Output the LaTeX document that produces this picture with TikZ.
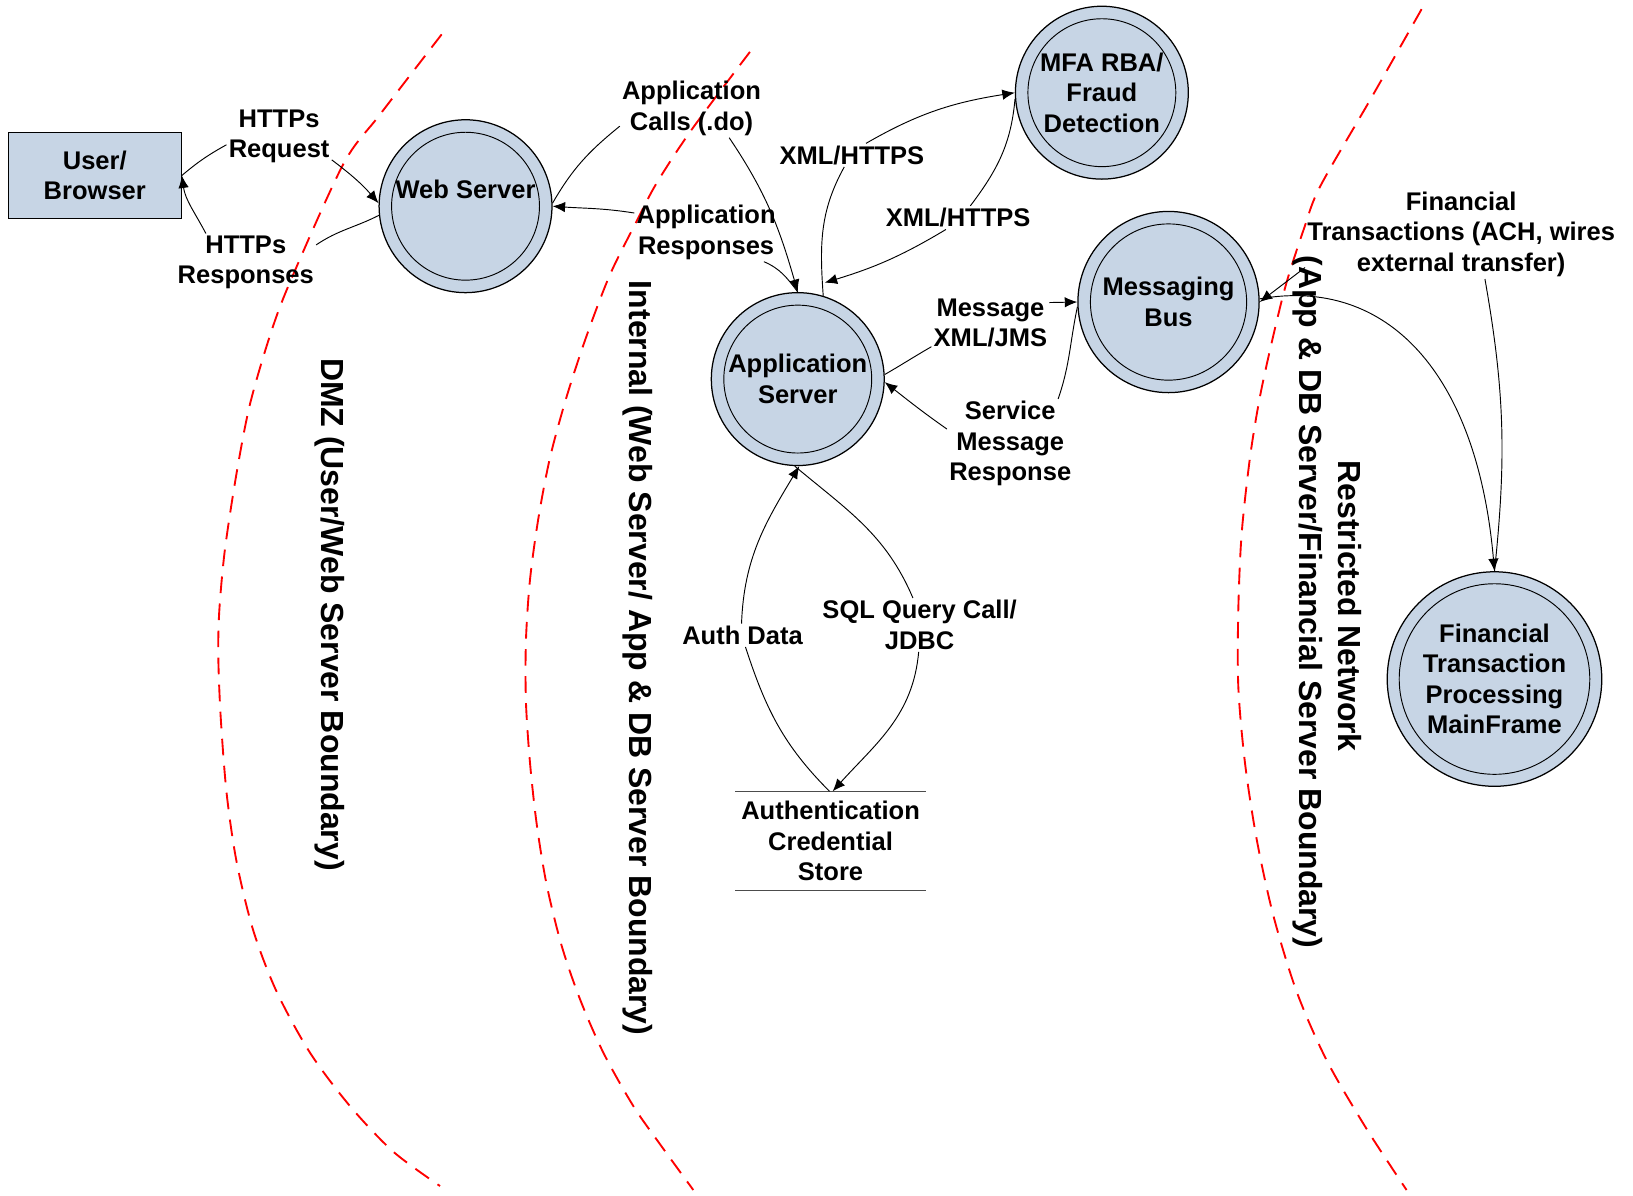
\documentclass[tikz,border=0pt]{standalone}
\usepackage{fontspec}
\setmainfont{Liberation Sans}
\usetikzlibrary{arrows.meta}
\definecolor{procfill}{RGB}{199,213,229}
\definecolor{zonered}{RGB}{255,0,0}
\newcommand\lblfont{\fontsize{24.5}{29.3}\selectfont\bfseries}
\newcommand\zonefont{\fontsize{30.7}{36}\selectfont\bfseries}

\begin{document}
\begin{tikzpicture}[x=1pt,y=1pt,
  lbl/.style={font=\lblfont, align=center, inner sep=2pt},
  proc/.style={circle, draw, line width=1.2pt, fill=procfill, font=\lblfont, align=center, inner sep=0pt},
  ring/.style={line width=0.9pt},
  flow/.style={line width=0.9pt, -{Latex[length=12pt,width=10pt]}},
  plain/.style={line width=0.9pt},
  zone/.style={draw=zonered, line width=1.8pt, dash pattern=on 16pt off 10pt},
  zonelbl/.style={font=\zonefont, rotate=-90, inner sep=0pt},
  storeline/.style={draw=black!70, line width=1.2pt}]
\useasboundingbox (0,0) rectangle (1568,-1148);

% trust boundaries
\draw[zone] plot[smooth] coordinates {(424.1,-33) (364.9,-109.9) (329.7,-157.5) (278.4,-271) (259.2,-322.3) (240,-388.2) (227.2,-454.1) (216,-527.3) (210.6,-585.9) (209.6,-629.9) (211.9,-688.4) (217.6,-761.7) (227.2,-827.6) (243.2,-893.5) (265.6,-952.1) (297.6,-1010.7) (336,-1062) (377.7,-1105.9) (422.5,-1138.8)};
\draw[zone] plot[smooth] coordinates {(720.1,-49.8) (664.1,-124.5) (630.5,-175.8) (611.3,-212.4) (585.7,-263.7) (563.3,-322.3) (544.1,-380.8) (528.1,-439.5) (516.9,-498) (508.9,-556.6) (505,-615.2) (505,-673.8) (508.9,-732.4) (515.3,-791) (524.9,-849.6) (539.3,-908.1) (556.9,-959.4) (579.3,-1010.7) (608.1,-1062) (633.7,-1098.6) (665.7,-1142.6)};
\draw[zone] plot[smooth] coordinates {(1365,-8.8) (1316,-95.2) (1267.4,-179.4) (1252,-219.7) (1235.4,-271) (1222.6,-322.3) (1209.8,-380.8) (1200.2,-439.5) (1192.2,-512.7) (1189,-585.9) (1189,-659.2) (1195.4,-732.4) (1206.6,-805.6) (1222.6,-878.9) (1245,-952.1) (1273.8,-1018) (1312.2,-1084) (1350.6,-1142.6)};

\node[zonelbl] (zdmz) at (317,-590) {DMZ (User/Web Server Boundary)};
\node[zonelbl] (zint) at (612,-632) {Internal (Web Server/ App \& DB Server Boundary)};
\node[zonelbl] (zres) at (1296,-582) {Restricted Network};
\node[zonelbl] (zapp) at (1256,-578) {(App \& DB Server/Financial Server Boundary)};

% external entity, processes and data store
\node[draw, line width=1.2pt, fill=procfill, minimum width=166pt, minimum height=83pt,
      font=\lblfont, align=center, inner sep=0pt] (ub) at (91,-168.5) {User/\\Browser};
\node[proc, minimum size=166pt] (ws) at (447,-198) {\raisebox{16pt}[\height][\depth]{Web Server}};
\node[proc, minimum size=166pt] (as) at (766,-364) {Application\\Server};
\node[proc, minimum size=166pt] (mfa) at (1058,-89) {MFA RBA/\\Fraud\\Detection};
\node[proc, minimum size=174pt] (mb) at (1122,-290) {Messaging\\Bus};
\node[proc, minimum size=206pt] (mf) at (1435,-652) {Financial\\Transaction\\Processing\\MainFrame};
\draw[ring] (ws.center) circle[radius=71];
\draw[ring] (as.center) circle[radius=71];
\draw[ring] (mfa.center) circle[radius=71];
\draw[ring] (mb.center) circle[radius=75];
\draw[ring] (mf.center) circle[radius=91.5];

\node[font=\lblfont, align=center, minimum width=183pt, minimum height=95pt, inner sep=0pt] (st) at (797.5,-807.5) {Authentication\\Credential\\Store};
\draw[storeline] (st.north west) -- (st.north east) (st.south west) -- (st.south east);

% flow labels
\node[lbl] (lreq) at (268,-131) {HTTPs\\Request};
\node[lbl] (lresp) at (236,-252) {HTTPs\\Responses};
\node[lbl] (lcalls) at (664,-104) {Application\\Calls (.do)};
\node[lbl] (lresp2) at (678,-223) {Application\\Responses};
\node[lbl] (lxml1) at (818,-149) {XML/HTTPS};
\node[lbl] (lxml2) at (920,-209) {XML/HTTPS};
\node[lbl] (lmsg) at (951,-310) {Message\\XML/JMS};
\node[lbl] (lsvc) at (970,-426) {Service\\Message\\Response};
\node[lbl] (lauth) at (713,-610) {Auth Data};
\node[lbl] (lsql) at (883,-600) {SQL Query Call/\\JDBC};
\node[lbl] (lft) at (1403,-225) {Financial\\Transactions (ACH, wires\\external transfer)};

% browser <-> web server
\draw[plain] (ub.east) to[out=40,in=209] (lreq.189);
\draw[flow] (lreq.-24) to[out=-37,in=131] (ws.178);
\draw[plain] (ws.186) to[out=207,in=34] (lresp.14);
\draw[flow] (lresp.144) to[out=118,in=-82] (ub.east);

% web server <-> application server
\draw[plain] (ws.2) to[out=60,in=219] (lcalls.194);
\draw[flow] (lcalls.-38) to[out=-56,in=106] (as.90);
\draw[plain] (as.90) to[out=127,in=-23] (lresp2.-27);
\draw[flow] (lresp2.165) to[out=171,in=-4] (ws.0);

% application server <-> fraud detection
\draw[plain] (as.73) to[out=94,in=-119] (lxml1.-123);
\draw[flow] (lxml1.40) to[out=30,in=189] (mfa.180);
\draw[plain] (mfa.184) to[out=-95,in=53] (lxml2.44);
\draw[flow] (lxml2.-136) to[out=211,in=17] ([yshift=13pt]as.72);

% application server <-> messaging bus
\draw[plain] (as.3) to[out=30,in=210] (lmsg.202);
\draw[flow] (lmsg.19) -- (mb.180);
\draw[plain] (mb.183) to[out=-102,in=71] (lsvc.43);
\draw[flow] (lsvc.167) to[out=145,in=-38] (as.-2);

% application server <-> credential store
\draw[plain] ([xshift=-1pt]st.north) to[out=135,in=-72] (lauth.-76);
\draw[flow] (lauth.95) to[out=88,in=-121] (as.271);
\draw[plain] (as.268) to[out=-40,in=113] (lsql.104);
\draw[flow] (lsql.-92) to[out=-95,in=48] ([xshift=2pt]st.north);

% messaging bus <-> mainframe
\draw[plain] (mf.90) to[out=84,in=-80] (lft.-62);
\draw[flow] (lft.192) -- (mb.0);
\draw[flow] (mb.2) .. controls +(10:125) and +(95:190) .. (mf.90);
\end{tikzpicture}
\end{document}
